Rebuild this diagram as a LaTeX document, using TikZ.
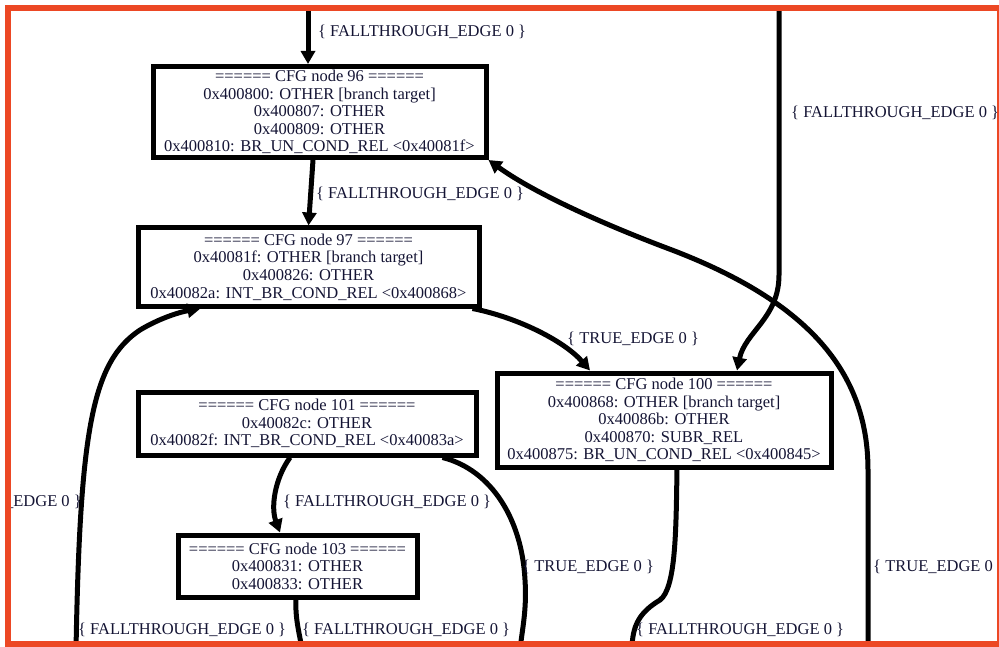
\documentclass[tikz,border=0pt]{standalone}
\usepackage{fontspec}
\setmainfont{Liberation Serif}
\usetikzlibrary{arrows.meta}
\definecolor{framered}{RGB}{236,72,36}
\definecolor{ink}{RGB}{20,20,52}
\begin{document}
\begin{tikzpicture}[x=1pt,y=-1pt,
  cfg/.style={draw=black, line width=5pt, inner sep=0pt, align=center, text=ink,
              font=\fontsize{16.5}{17.6}\selectfont},
  edge/.style={draw=black, line width=5pt, -{Triangle[length=13pt,width=14pt]}},
  plainedge/.style={draw=black, line width=5pt},
  elabel/.style={text=ink, font=\fontsize{16.5}{18}\selectfont, inner sep=0pt}]
\useasboundingbox (0,0) rectangle (999,647);
\begin{scope}
\clip (8,8) rectangle (999,644);
% basic blocks
\node[cfg, minimum width=333pt, minimum height=91pt] (n96) at (319.5,112)
  {====== CFG node 96 ======\\ 0x400800: OTHER [branch target]\\ 0x400807: OTHER\\ 0x400809: OTHER\\ 0x400810: BR\_UN\_COND\_REL <0x40081f>};
\node[cfg, minimum width=341pt, minimum height=78pt] (n97) at (308.5,267)
  {====== CFG node 97 ======\\ 0x40081f: OTHER [branch target]\\ 0x400826: OTHER\\ 0x40082a: INT\_BR\_COND\_REL <0x400868>};
\node[cfg, minimum width=338pt, minimum height=63pt] (n101) at (307,423.5)
  {====== CFG node 101 ======\\ 0x40082c: OTHER\\ 0x40082f: INT\_BR\_COND\_REL <0x40083a>};
\node[cfg, minimum width=334pt, minimum height=94pt] (n100) at (664,420)
  {====== CFG node 100 ======\\ 0x400868: OTHER [branch target]\\ 0x40086b: OTHER\\ 0x400870: SUBR\_REL\\ 0x400875: BR\_UN\_COND\_REL <0x400845>};
\node[cfg, minimum width=239pt, minimum height=62pt] (n103) at (297.5,566)
  {====== CFG node 103 ======\\ 0x400831: OTHER\\ 0x400833: OTHER};
% loose ends of edges leaving the view
\coordinate (t1) at (308,0);
\coordinate (t2) at (779,0);
\coordinate (bl) at (76,650);
\coordinate (b103) at (302,650);
\coordinate (b101) at (520,650);
\coordinate (b100) at (632,650);
\coordinate (br) at (868,650);
% edges
\draw[edge] (t1) -- (t1 |- n96.north);
\node[elabel, anchor=west] (l1) at (318,32) {\{ FALLTHROUGH\_EDGE 0 \}};
\draw[edge] ([xshift=-6.5pt]n96.south) -- (n97.north);
\node[elabel, anchor=west] (l2) at (316,194) {\{ FALLTHROUGH\_EDGE 0 \}};
\draw[edge] (t2) -- (779,275) .. controls (779,318) and (745,332) .. ([xshift=73pt]n100.north);
\node[elabel, anchor=west] (l3) at (791,113) {\{ FALLTHROUGH\_EDGE 0 \}};
\draw[edge] ([xshift=-9pt]n97.south east) .. controls (520,318) and (565,342) .. ([xshift=-74pt]n100.north);
\node[elabel, anchor=west] (l4) at (567,339) {\{ TRUE\_EDGE 0 \}};
\draw[edge] (br) -- (868,470) .. controls (868,372) and (808,302) .. (672,250)
  .. controls (592,220) and (530,190) .. (n96.south east);
\node[elabel, anchor=west] (l5) at (873,567) {\{ TRUE\_EDGE 0 \}};
\draw[edge] (bl) .. controls (80,430) and (92,362) .. (140,330)
  .. controls (160,318) and (180,312) .. ([xshift=-108pt]n97.south);
\node[elabel, anchor=east] (l6) at (82,502) {\{ FALLTHROUGH\_EDGE 0 \}};
\draw[edge] ([xshift=-17pt]n101.south) .. controls (274,480) and (271,508) .. ([xshift=-17.5pt]n103.north);
\node[elabel, anchor=west] (l7) at (283,502) {\{ FALLTHROUGH\_EDGE 0 \}};
\draw[plainedge] ([xshift=-36pt]n101.south east) .. controls (492,470) and (522,520) .. (525,580)
  .. controls (527,610) and (522,630) .. (b101);
\node[elabel, anchor=west] (l8) at (522,567) {\{ TRUE\_EDGE 0 \}};
\draw[plainedge] ([xshift=-1.5pt]n103.south) .. controls (295,620) and (300,635) .. (b103);
\node[elabel, anchor=west] (l9) at (302,630) {\{ FALLTHROUGH\_EDGE 0 \}};
\draw[plainedge] ([xshift=13pt]n100.south) .. controls (676,530) and (676,588) .. (660,600)
  .. controls (640,612) and (632,625) .. (b100);
\node[elabel, anchor=west] (l10) at (636,630) {\{ FALLTHROUGH\_EDGE 0 \}};
\node[elabel, anchor=west] (l11) at (78,630) {\{ FALLTHROUGH\_EDGE 0 \}};
\end{scope}
% view frame
\draw[framered, line width=6pt] (8,8) rectangle (1000,644);
\end{tikzpicture}
\end{document}
